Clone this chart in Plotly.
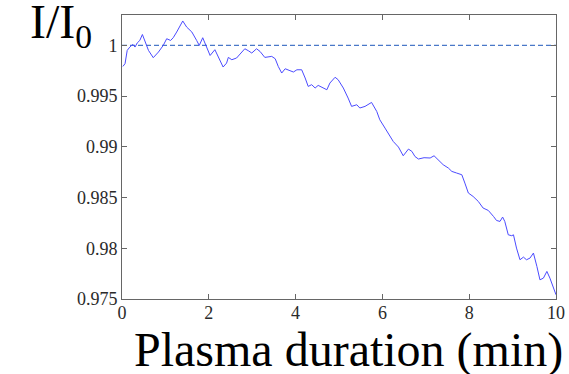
import plotly.graph_objects as go

# Plasma duration (min)
time_min = [0.02, 0.07, 0.12, 0.18, 0.25, 0.30, 0.35, 0.41, 0.47, 0.53, 0.61, 0.72, 0.84, 0.95,
            1.03, 1.12, 1.18, 1.26, 1.40, 1.49, 1.61, 1.72, 1.78, 1.86, 1.94, 2.03, 2.14, 2.22,
            2.33, 2.41, 2.45, 2.53, 2.64, 2.72, 2.83, 2.91, 2.99, 3.10, 3.18, 3.29, 3.45, 3.53,
            3.60, 3.68, 3.76, 3.87, 3.95, 4.03, 4.14, 4.22, 4.29, 4.37, 4.45, 4.52, 4.64, 4.72,
            4.79, 4.91, 4.98, 5.10, 5.21, 5.29, 5.41, 5.48, 5.60, 5.75, 5.87, 5.94, 6.06, 6.18,
            6.25, 6.37, 6.48, 6.60, 6.68, 6.75, 6.83, 6.96, 7.10, 7.19, 7.29, 7.40, 7.52, 7.60,
            7.71, 7.83, 7.90, 7.98, 8.09, 8.21, 8.32, 8.44, 8.56, 8.63, 8.71, 8.77, 8.82, 8.90,
            8.98, 9.02, 9.09, 9.17, 9.25, 9.32, 9.40, 9.48, 9.56, 9.63, 9.71, 9.79, 9.86, 9.94,
            10.0]

# Normalized intensity I/I0
intensity = [0.99793, 0.99820, 0.99951, 0.99984, 1.00010, 0.99984, 1.00024, 1.00049, 1.00108,
             1.00034, 0.99951, 0.99879, 0.99935, 1.00000, 1.00066, 1.00049, 1.00076, 1.00132,
             1.00241, 1.00181, 1.00132, 1.00049, 1.00000, 1.00076, 0.99984, 0.99901, 0.99958,
             0.99892, 0.99787, 0.99826, 0.99882, 0.99859, 0.99876, 0.99915, 0.99967, 0.99948,
             0.99925, 0.99967, 0.99941, 0.99882, 0.99892, 0.99869, 0.99793, 0.99728, 0.99770,
             0.99751, 0.99738, 0.99760, 0.99760, 0.99679, 0.99596, 0.99613, 0.99580, 0.99606,
             0.99580, 0.99563, 0.99629, 0.99686, 0.99662, 0.99580, 0.99481, 0.99399, 0.99415,
             0.99383, 0.99399, 0.99438, 0.99349, 0.99267, 0.99185, 0.99103, 0.99053, 0.98998,
             0.98912, 0.98978, 0.98955, 0.98905, 0.98880, 0.98893, 0.98890, 0.98912, 0.98873,
             0.98824, 0.98791, 0.98758, 0.98742, 0.98725, 0.98643, 0.98545, 0.98511, 0.98462,
             0.98397, 0.98373, 0.98314, 0.98274, 0.98265, 0.98308, 0.98265, 0.98133, 0.98124,
             0.98133, 0.98002, 0.97887, 0.97913, 0.97887, 0.97903, 0.97953, 0.97821, 0.97689,
             0.97706, 0.97772, 0.97706, 0.97618, 0.97542]

ref_x = [0, 10]
ref_y = [1.0, 1.0]

x_ticks = [0, 2, 4, 6, 8, 10]
y_ticks = [0.975, 0.98, 0.985, 0.99, 0.995, 1.0]
y_tick_text = ["0.975", "0.98", "0.985", "0.99", "0.995", "1"]

serif = "'Liberation Serif', 'Times New Roman', Times, 'DejaVu Serif', serif"

fig = go.Figure()
fig.add_trace(go.Scatter(x=ref_x, y=ref_y, mode="lines",
                         line=dict(color="#4a78c8", width=1.2, dash="5px,3px"),
                         hoverinfo="skip", showlegend=False))
fig.add_trace(go.Scatter(x=time_min, y=intensity, mode="lines",
                         line=dict(color="rgb(75,75,255)", width=1),
                         showlegend=False))

axis_common = dict(showgrid=False, zeroline=False, showline=True, linecolor="#666",
                   linewidth=1, mirror="ticks", ticks="inside", ticklen=5, tickcolor="#666",
                   automargin=False,
                   tickfont=dict(family=serif, size=18, color="#2a2a2a"))

fig.update_xaxes(range=[0, 10], tickvals=x_ticks, ticklabelstandoff=-3, **axis_common)
fig.update_yaxes(range=[0.975, 1.003], tickvals=y_ticks, ticktext=y_tick_text, **axis_common)

fig.add_annotation(text="I/I<sub>0</sub>", xref="paper", yref="paper",
                   x=-0.2166, y=0.965, xanchor="left", yanchor="middle", showarrow=False,
                   font=dict(family=serif, size=48, color="#000"))
fig.add_annotation(text="Plasma duration (min)", xref="paper", yref="paper",
                   x=1.0207, y=-0.18, xanchor="right", yanchor="middle", showarrow=False,
                   font=dict(family=serif, size=48, color="#000"))

fig.update_layout(width=569, height=374, margin=dict(l=122, r=13, t=15, b=75),
                  paper_bgcolor="white", plot_bgcolor="white", font=dict(family=serif))

fig.write_html("out.html")
